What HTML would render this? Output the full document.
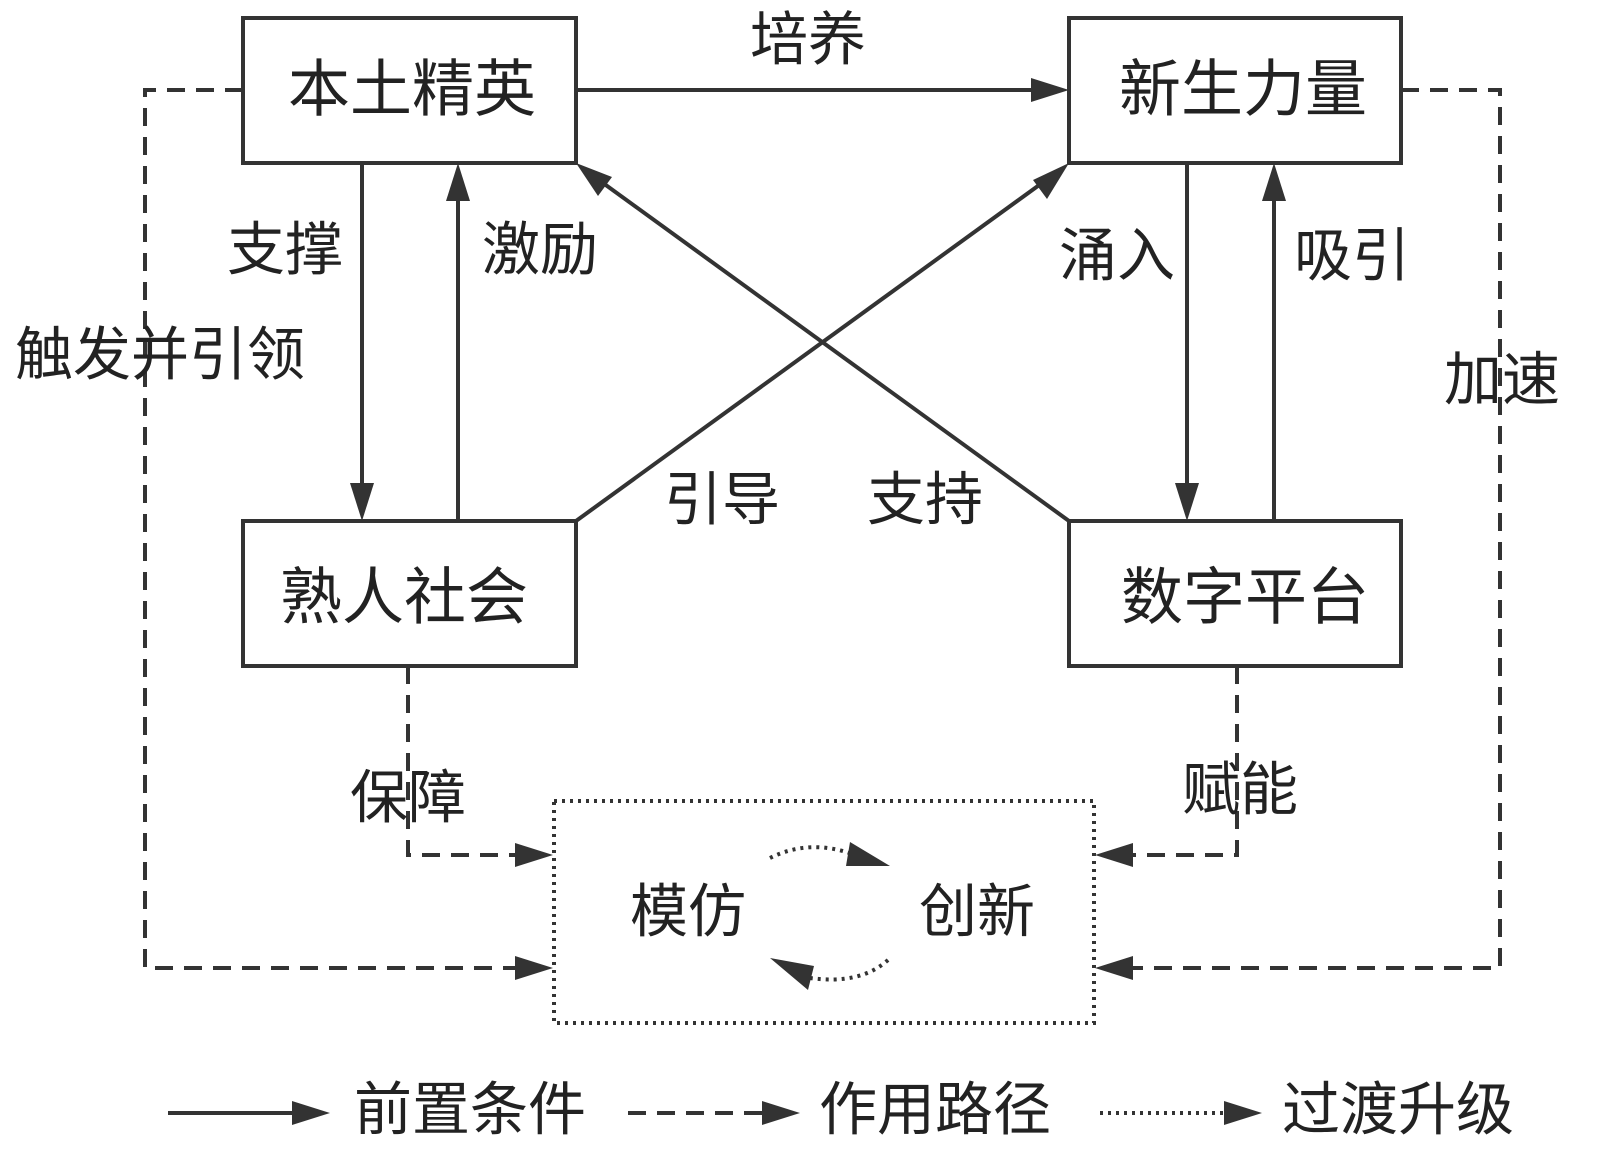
<!DOCTYPE html>
<html><head><meta charset="utf-8"><style>
html,body{margin:0;padding:0;background:#fff;}
svg{display:block}
text{font-family:"Liberation Sans","Noto Sans CJK SC",sans-serif;font-size:58px;fill:#222;text-anchor:middle;dominant-baseline:central}
</style></head><body>
<svg width="1600" height="1175" viewBox="0 0 1600 1175" xmlns="http://www.w3.org/2000/svg">
<defs>
<marker id="a" markerWidth="10" markerHeight="8" refX="9" refY="4" orient="auto" markerUnits="userSpaceOnUse" viewBox="0 0 10 8" style="overflow:visible">
</marker>
</defs>
<g stroke="#333" stroke-width="4" fill="none">
<rect x="243" y="18" width="333" height="145"/>
<rect x="1069" y="18" width="332" height="145"/>
<rect x="243" y="521" width="333" height="145"/>
<rect x="1069" y="521" width="332" height="145"/>
<rect x="554" y="801" width="540" height="222" stroke-width="4" stroke-dasharray="3,5"/>
</g>
<g stroke="#333" stroke-width="4" fill="none">
<line x1="576" y1="90" x2="1035" y2="90"/>
<line x1="362" y1="163" x2="362" y2="488"/>
<line x1="458" y1="521" x2="458" y2="196"/>
<line x1="576" y1="521" x2="1042" y2="183"/>
<line x1="1069" y1="521" x2="603" y2="183"/>
<line x1="1187" y1="163" x2="1187" y2="488"/>
<line x1="1274" y1="521" x2="1274" y2="196"/>
<line x1="168" y1="1113" x2="295" y2="1113"/>
</g>
<g stroke="#333" stroke-width="4" fill="none" stroke-dasharray="18,11">
<polyline points="243,90 145,90 145,968 520,968"/>
<polyline points="1401,90 1500,90 1500,968 1128,968"/>
<polyline points="408,666 408,855 520,855"/>
<polyline points="1237,666 1237,855 1128,855"/>
<line x1="628" y1="1113" x2="765" y2="1113"/>
</g>
<g stroke="#333" stroke-width="4" fill="none" stroke-dasharray="3,5">
<path d="M770,858 Q810,838 855,855"/>
<path d="M888,960 Q860,985 810,978"/>
<line x1="1100" y1="1113" x2="1225" y2="1113"/>
</g>
<g fill="#333">
<polygon points="1069,90 1031,78 1031,102"/>
<polygon points="362,521 350,483 374,483"/>
<polygon points="458,163 446,201 470,201"/>
<polygon points="1069,163 1033,180 1047,199"/>
<polygon points="576,163 598,196 612,177"/>
<polygon points="1187,521 1175,483 1199,483"/>
<polygon points="1274,163 1262,201 1286,201"/>
<polygon points="553,968 515,956 515,980"/>
<polygon points="1095,968 1133,956 1133,980"/>
<polygon points="553,855 515,843 515,867"/>
<polygon points="1095,855 1133,843 1133,867"/>
<polygon points="890,866 850,842 846,866"/>
<polygon points="770,958 808,990 814,966"/>
<polygon points="330,1113 292,1101 292,1125"/>
<polygon points="800,1113 762,1101 762,1125"/>
<polygon points="1262,1113 1224,1101 1224,1125"/>
</g>
<text x="412" y="90" style="font-size:62px">本土精英</text>
<text x="1243" y="90" style="font-size:62px">新生力量</text>
<text x="404" y="598" style="font-size:62px">熟人社会</text>
<text x="1245" y="598" style="font-size:62px">数字平台</text>
<text x="808" y="40">培养</text>
<text x="285" y="250">支撑</text>
<text x="540" y="250">激励</text>
<text x="160" y="355">触发并引领</text>
<text x="1117" y="256">涌入</text>
<text x="1352" y="256">吸引</text>
<text x="1502" y="380">加速</text>
<text x="722" y="500">引导</text>
<text x="925" y="500">支持</text>
<text x="408" y="798">保障</text>
<text x="1240" y="790">赋能</text>
<text x="688" y="912">模仿</text>
<text x="977" y="912">创新</text>
<text x="470" y="1110">前置条件</text>
<text x="935" y="1110">作用路径</text>
<text x="1398" y="1110">过渡升级</text>
</svg>
</body></html>
